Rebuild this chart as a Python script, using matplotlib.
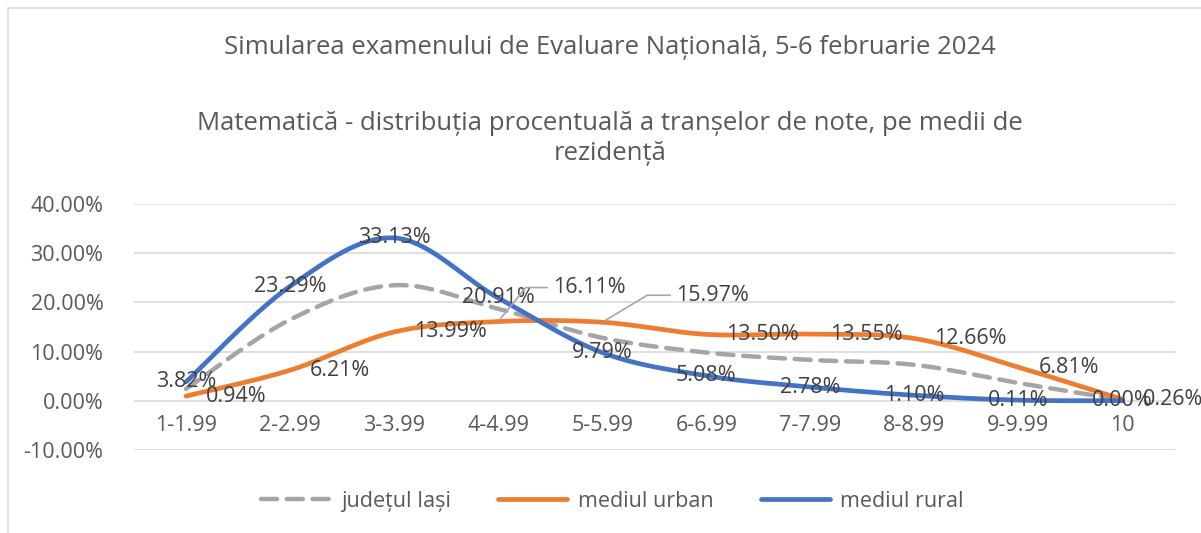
import numpy as np
import matplotlib.pyplot as plt
from matplotlib.patches import Rectangle

categories = ["1-1.99", "2-2.99", "3-3.99", "4-4.99", "5-5.99",
              "6-6.99", "7-7.99", "8-8.99", "9-9.99", "10"]
judet_iasi = [2.4, 16.5, 23.5, 18.7, 12.8, 9.8, 8.3, 7.3, 3.6, 0.15]
mediul_urban = [0.94, 6.21, 13.99, 16.11, 15.97, 13.50, 13.55, 12.66, 6.81, 0.26]
mediul_rural = [3.82, 23.29, 33.13, 20.91, 9.79, 5.08, 2.78, 1.10, 0.11, 0.00]
y_ticks = [-10, 0, 10, 20, 30, 40]

FONT = ["Open Sans", "DejaVu Sans"]
TXT = "#595959"
LBL = "#404040"


def smooth(y, n=40):
    # Excel-like smoothed line (Bezier through points, 1/6 tangents)
    x = np.arange(len(y), dtype=float)
    p = np.column_stack([x, np.asarray(y, dtype=float)])
    pts = [p[0]]
    t = np.linspace(0, 1, n)[1:, None]
    for i in range(len(p) - 1):
        p0 = p[i - 1] if i > 0 else p[i]
        p3 = p[i + 2] if i + 2 < len(p) else p[i + 1]
        p1, p2 = p[i], p[i + 1]
        c1 = p1 + (p2 - p0) / 6
        c2 = p2 - (p3 - p1) / 6
        seg = ((1 - t) ** 3) * p1 + 3 * ((1 - t) ** 2) * t * c1 + 3 * (1 - t) * t ** 2 * c2 + t ** 3 * p2
        pts.extend(seg)
    pts = np.array(pts)
    return pts[:, 0], pts[:, 1]


plt.rcParams["font.family"] = FONT
fig = plt.figure(figsize=(12.01, 5.33), dpi=100)
ax = fig.add_axes([0.1116, 0.156, 0.8664, 0.461])

x = np.arange(len(categories))
ax.plot(*smooth(judet_iasi), color="#A5A5A5", lw=3.2, ls=(0, (3.6, 2.2)),
        dash_capstyle="round", label="județul Iași", zorder=3)
ax.plot(*smooth(mediul_urban), color="#ED7D31", lw=3.4, solid_capstyle="round",
        label="mediul urban", zorder=3)
ax.plot(*smooth(mediul_rural), color="#4472C4", lw=3.4, solid_capstyle="round",
        label="mediul rural", zorder=3)

# data labels: rural centered, urban to the right
for i, v in enumerate(mediul_rural):
    ax.annotate(f"{v:.2f}%", (x[i], v), ha="center", va="center",
                fontsize=15.5, color=LBL, zorder=5)
leader = {3: ((91, 34), 51), 4: ((110, 27), 31)}
for i, v in enumerate(mediul_urban):
    if i in leader:
        off, ang = leader[i]
        ax.annotate(f"{v:.2f}%", (x[i], v), xytext=off, textcoords="offset pixels",
                    ha="center", va="center", fontsize=15.5, color=LBL, zorder=5,
                    arrowprops=dict(arrowstyle="-", color="#A6A6A6", lw=1.2,
                                    relpos=(0, 0.5), shrinkA=2, shrinkB=2,
                                    connectionstyle=f"angle,angleA=0,angleB={ang},rad=0"))
    else:
        ax.annotate(f"{v:.2f}%", (x[i], v), xytext=(20, 0), textcoords="offset pixels",
                    ha="left", va="center", fontsize=15.5, color=LBL, zorder=5,
                    annotation_clip=False)

ax.set_xlim(-0.5, len(categories) - 0.5)
ax.set_ylim(-10, 40)
ax.set_yticks(y_ticks)
ax.set_yticklabels([f"{v:.2f}%" for v in y_ticks])
ax.tick_params(axis="y", length=0, pad=22, labelsize=15.5, labelcolor=TXT)
ax.grid(axis="y", color="#D9D9D9", lw=1.2)
ax.set_axisbelow(True)
for s in ax.spines.values():
    s.set_visible(False)

ax.spines["bottom"].set_position(("data", 0))
ax.set_xticks(x)
ax.set_xticklabels(categories)
ax.tick_params(axis="x", length=0, pad=10, labelsize=15.5, labelcolor=TXT)

fig.text(0.508, 0.91, "Simularea examenului de Evaluare Națională, 5-6 februarie 2024",
         ha="center", va="center", fontsize=18.5, color=TXT)
fig.text(0.508, 0.74, "Matematică - distribuția procentuală a tranșelor de note, pe medii de\nrezidență",
         ha="center", va="center", fontsize=18.5, color=TXT, linespacing=1.3)

fig.legend(loc="center", bbox_to_anchor=(0.51, 0.06), ncol=3, frameon=False,
           fontsize=15.5, labelcolor=TXT, handlelength=3.2, columnspacing=2.2,
           handletextpad=0.5)

fig.patches.append(Rectangle((8 / 1201, -0.01), 1.02, 1 - 8 / 533 + 0.01,
                             transform=fig.transFigure, fill=False,
                             edgecolor="#D9D9D9", lw=1.2))

fig.savefig("out.png", dpi=100)
